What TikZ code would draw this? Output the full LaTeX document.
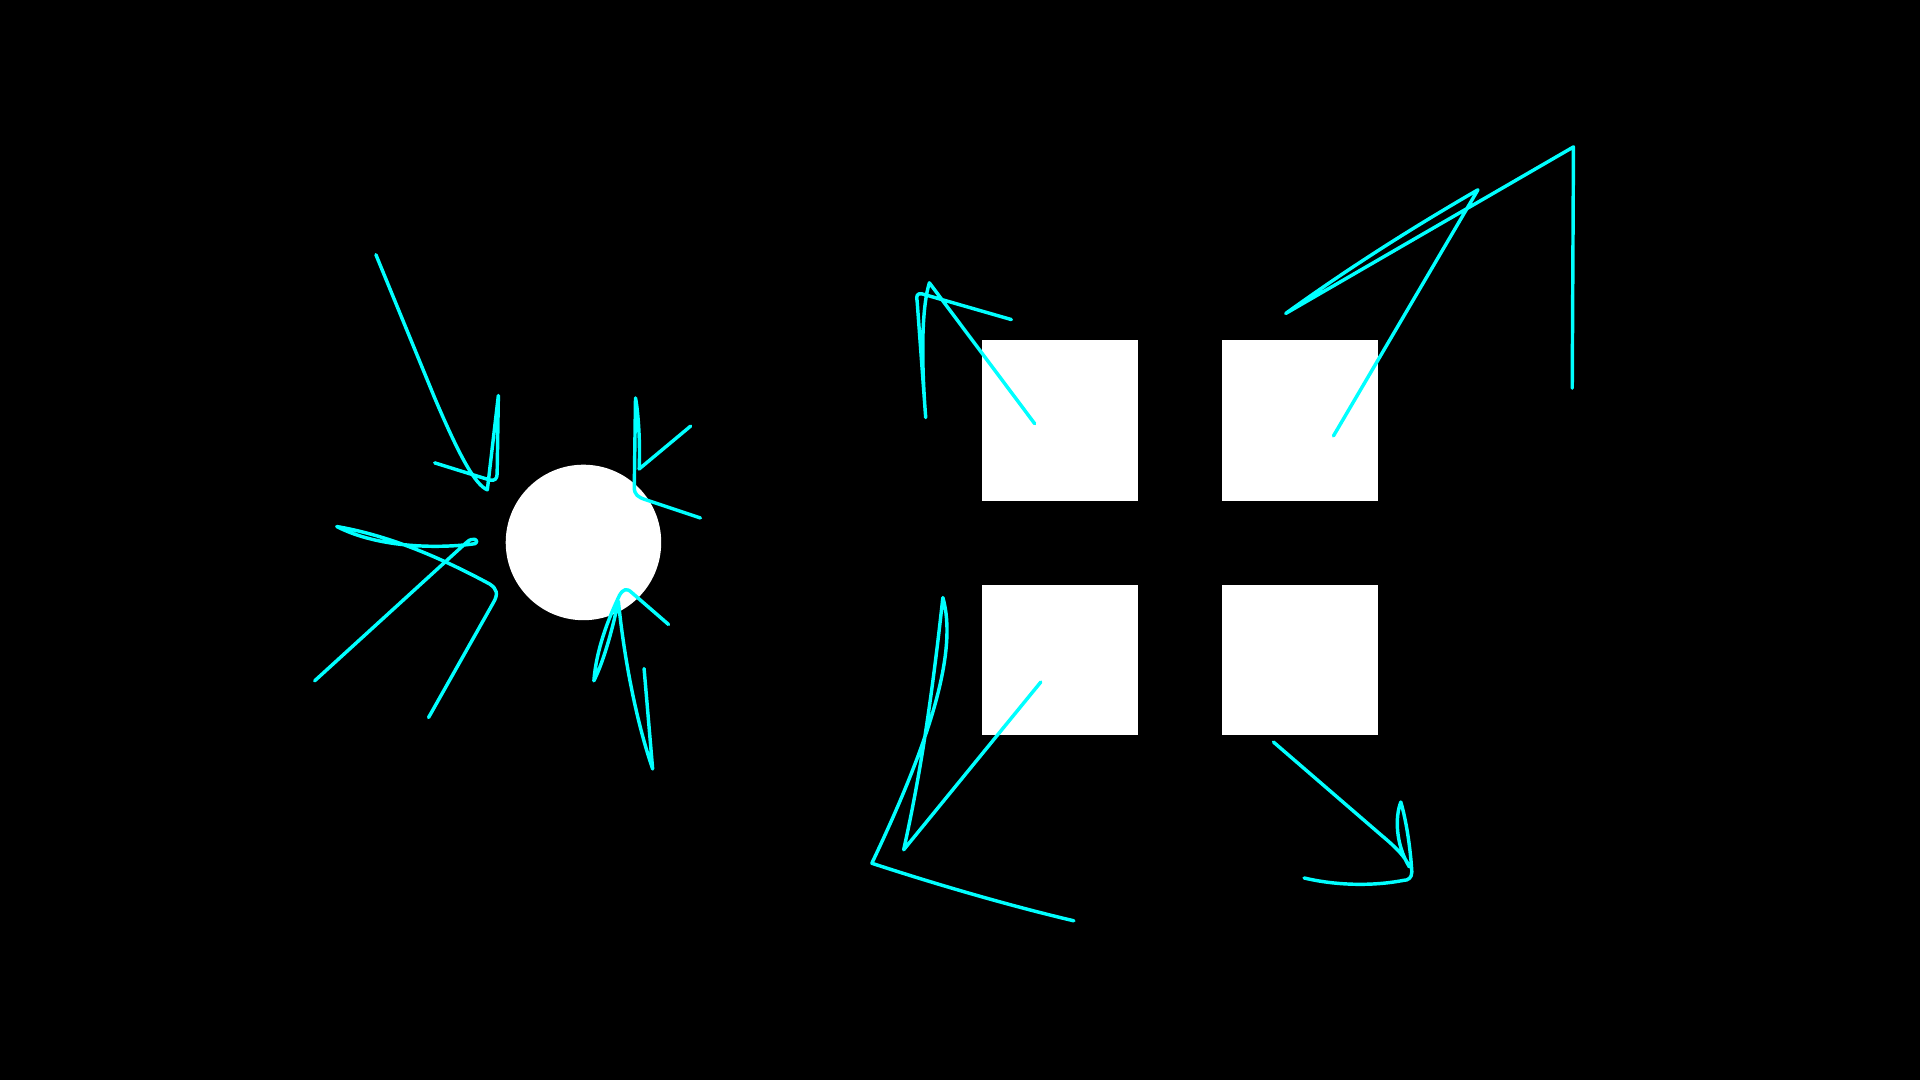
\documentclass[tikz,border=0pt]{standalone}
\definecolor{aqua}{RGB}{0,255,255}
\begin{document}
\begin{tikzpicture}[x=0.01cm,y=-0.01cm,
  scribble/.style={draw=aqua,line width=0.8pt,line cap=round,line join=round},
  block/.style={fill=white,draw=none}]
\fill[black] (0,0) rectangle (1568,882);
\useasboundingbox (0,0) rectangle (1568,882);
% white shapes
\fill[block] (476.5,443) circle (63.5);
\fill[block] (802,278) rectangle (929,409);
\fill[block] (998,278) rectangle (1125,409);
\fill[block] (802,478) rectangle (929,600);
\fill[block] (998,478) rectangle (1125,600);
% scribbles around circle
\draw[scribble] (307,208) -- (355,325) .. controls (375,372) and (388,396) .. (398,400)
  -- (407,323) -- (406,387) .. controls (406,391) and (404,393) .. (400,392) -- (355,378);
\draw[scribble] (564,348) -- (522,383) .. controls (523,360) and (521,335) .. (519,325)
  -- (518,398) .. controls (518,404) and (521,406) .. (527,408) -- (572,423);
\draw[scribble] (257,556) -- (381,443) .. controls (386,438) and (392,441) .. (388,444)
  .. controls (360,448) and (310,448) .. (275,430)
  .. controls (310,436) and (350,450) .. (400,477)
  .. controls (406,481) and (407,485) .. (403,492) -- (350,586);
\draw[scribble] (546,510) -- (516,484) .. controls (512,480) and (509,481) .. (506,486)
  .. controls (497,505) and (487,530) .. (485,556)
  .. controls (494,538) and (501,510) .. (505,491)
  .. controls (510,540) and (520,590) .. (533,628) -- (526,546);
% scribbles around squares
\draw[scribble] (826,261) -- (753,240) .. controls (749,239) and (748,242) .. (749,246)
  -- (756,341) .. controls (752,290) and (753,250) .. (759,231) -- (845,346);
\draw[scribble] (1089,356) -- (1207,155) .. controls (1150,188) and (1100,220) .. (1050,256)
  -- (1285,120) -- (1284,317);
\draw[scribble] (850,557) -- (738,694) .. controls (750,640) and (760,580) .. (770,488)
  .. controls (782,530) and (762,600) .. (712,705)
  .. controls (770,724) and (830,741) .. (877,752);
\draw[scribble] (1040,606) -- (1128,682) .. controls (1140,692) and (1148,700) .. (1151,708)
  .. controls (1140,690) and (1139,668) .. (1144,655)
  .. controls (1149,672) and (1152,695) .. (1153,712)
  .. controls (1153,717) and (1150,719) .. (1146,719)
  .. controls (1120,724) and (1090,723) .. (1065,717);
\end{tikzpicture}
\end{document}
